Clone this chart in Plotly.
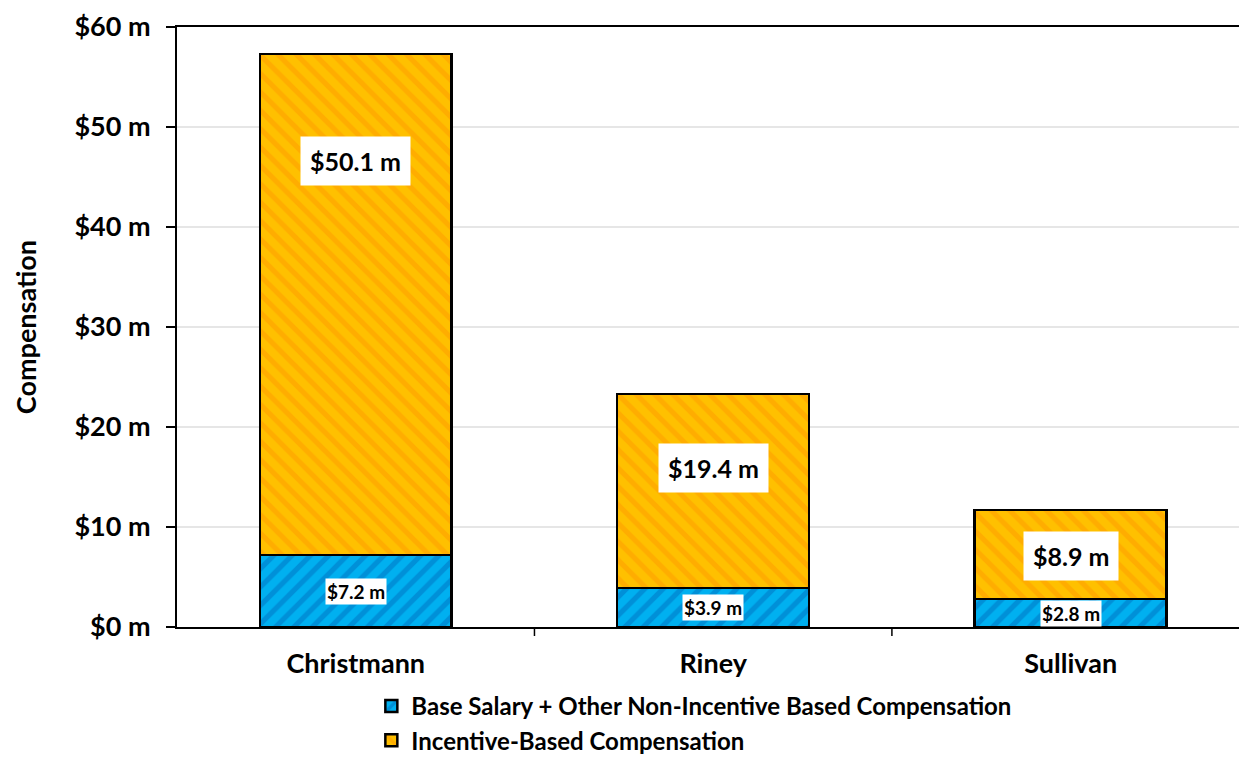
import plotly.graph_objects as go

executives = ["Christmann", "Riney", "Sullivan"]
base_comp = [7.2, 3.9, 2.8]
incentive_comp = [50.1, 19.4, 8.9]
y_tick_values = [0, 10, 20, 30, 40, 50, 60]
y_tick_labels = ["$0 m", "$10 m", "$20 m", "$30 m", "$40 m", "$50 m", "$60 m"]
series_names = ["Base Salary + Other Non-Incentive Based Compensation",
                "Incentive-Based Compensation"]
y_axis_title = "Compensation"

# where inside the incentive segment each label sits (fraction of segment height)
incentive_label_frac = [0.786, 0.62, 0.48]

FONT = "Lato"
BAR_W = 0.537

fig = go.Figure()
fig.add_trace(go.Bar(
    x=executives, y=base_comp, name=series_names[0], width=BAR_W,
    marker=dict(color="#00B0F0", line=dict(color="black", width=2.5),
                pattern=dict(shape="/", fgcolor="#0070C0", size=13, solidity=0.4)),
))
fig.add_trace(go.Bar(
    x=executives, y=incentive_comp, name=series_names[1], width=BAR_W,
    marker=dict(color="#FFC000", line=dict(color="black", width=2.5),
                pattern=dict(shape="\\", fgcolor="#FF9900", size=13, solidity=0.4)),
))

annotations = []
for i, name in enumerate(executives):
    annotations.append(dict(
        x=name, y=base_comp[i] / 2, xref="x", yref="y",
        text=f"${base_comp[i]:.1f} m", showarrow=False,
        font=dict(family=FONT, size=19, color="black", weight="bold"),
        bgcolor="white", borderpad=1,
    ))
    annotations.append(dict(
        x=name, y=base_comp[i] + incentive_comp[i] * incentive_label_frac[i],
        xref="x", yref="y",
        text=f"${incentive_comp[i]:.1f} m", showarrow=False,
        font=dict(family=FONT, size=25, color="black", weight="bold"),
        bgcolor="white", borderpad=9,
    ))
annotations.append(dict(
    x=-0.143, y=0.5, xref="paper", yref="paper", xanchor="center", yanchor="middle",
    text=y_axis_title, textangle=-90, showarrow=False,
    font=dict(family=FONT, size=27, color="black", weight="bold"),
))

fig.update_layout(
    width=1239, height=758,
    barmode="stack",
    paper_bgcolor="white", plot_bgcolor="white",
    margin=dict(l=177, r=0, t=27, b=131, autoexpand=False),
    font=dict(family=FONT, color="black", weight="bold"),
    showlegend=True,
    legend=dict(
        orientation="v", x=0.183, xanchor="left", y=-0.095, yanchor="top",
        font=dict(family=FONT, size=24, color="black", weight="bold"),
        itemwidth=30, tracegroupgap=0, traceorder="normal",
        bgcolor="rgba(0,0,0,0)",
    ),
    annotations=annotations,
)
fig.update_xaxes(
    range=[-0.5, 2.471],
    showline=True, linecolor="black", linewidth=2, mirror=True,
    ticks="", showgrid=False,
    tickfont=dict(family=FONT, size=27, color="black", weight="bold"),
    ticklabelstandoff=12,
)
# category boundary tick marks on the x axis
fig.update_layout(shapes=[
    dict(type="line", xref="x", yref="paper", x0=b, x1=b, y0=0, y1=-0.015,
         line=dict(color="black", width=1.5))
    for b in [0.5, 1.5]
])
fig.update_yaxes(
    range=[0, 60], tickvals=y_tick_values, ticktext=y_tick_labels,
    showline=True, linecolor="black", linewidth=2,
    ticks="outside", ticklen=9, tickcolor="black", tickwidth=2,
    showgrid=True, gridcolor="#E6E6E6", gridwidth=1.5,
    zeroline=False, automargin=False,
    tickfont=dict(family=FONT, size=27, color="black", weight="bold"),
    ticklabelstandoff=10,
)

fig.write_html("out.html")
